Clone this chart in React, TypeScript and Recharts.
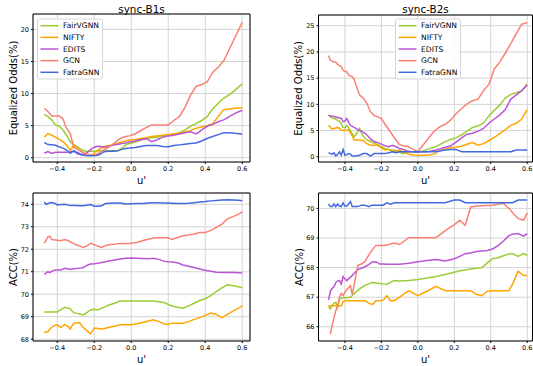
import React from 'react';
import { LineChart, Line, XAxis, YAxis, CartesianGrid, ReferenceArea } from 'recharts';

// ---------- data ----------
const seriesNames = ['FairVGNN', 'NIFTY', 'EDITS', 'GCN', 'FatraGNN'];
const xTickValues = [-0.4, -0.2, 0, 0.2, 0.4, 0.6];

// sync-B1s, Equalized Odds
const xsB1 = [-0.47, -0.45, -0.43, -0.41, -0.39, -0.37, -0.35, -0.33, -0.31, -0.29, -0.27, -0.25, -0.23, -0.21, -0.19, -0.17, -0.15, -0.13, -0.11, -0.09, -0.07, -0.05, -0.03, -0.01,
  0.02, 0.05, 0.08, 0.11, 0.14, 0.17, 0.2, 0.23, 0.26, 0.29, 0.32, 0.35, 0.38, 0.41, 0.44, 0.47, 0.5, 0.53, 0.56, 0.6];
const eoB1Fair = [6.75, 6.4, 5.9, 5.1, 4.9, 4.4, 3.5, 2.5, 2.0, 1.7, 1.3, 1.0, 1.0, 1.0, 1.0, 1.1, 1.1, 1.1, 1.1, 1.1, 1.1, 1.5, 2.0, 2.2,
  2.4, 2.7, 3.0, 3.1, 3.2, 3.4, 3.5, 3.7, 3.9, 4.3, 4.9, 5.3, 5.8, 6.4, 7.6, 8.5, 9.3, 9.8, 10.5, 11.5];
const eoB1Nifty = [3.2, 3.8, 3.5, 3.2, 2.9, 2.5, 2.0, 1.1, 2.0, 1.4, 1.0, 0.6, 0.5, 0.4, 1.0, 1.4, 1.7, 1.85, 1.95, 2.1, 2.3, 2.45, 2.6, 2.75,
  2.85, 3.0, 3.1, 3.3, 3.4, 3.5, 3.6, 3.7, 3.8, 4.0, 4.2, 4.6, 4.8, 5.0, 5.3, 6.4, 7.5, 7.6, 7.7, 7.8];
const eoB1Edits = [0.7, 0.95, 0.65, 0.84, 0.84, 0.84, 0.84, 0.9, 1.0, 0.6, 0.47, 0.6, 1.0, 1.5, 1.75, 1.8, 1.65, 1.7, 1.85, 2.0, 2.1, 2.2, 2.3, 2.45,
  2.6, 2.8, 3.0, 2.5, 2.8, 3.2, 3.4, 3.5, 3.7, 3.9, 4.05, 3.7, 4.3, 4.9, 5.2, 5.6, 5.9, 6.4, 6.9, 7.4];
const eoB1Gcn = [7.7, 7.2, 6.5, 6.5, 6.5, 6.1, 4.6, 3.8, 1.6, 1.3, 1.0, 0.6, 0.45, 0.4, 0.5, 0.8, 1.2, 1.5, 1.9, 2.3, 2.8, 3.1, 3.3, 3.4,
  3.7, 4.2, 4.7, 5.1, 5.1, 5.1, 5.1, 5.8, 6.4, 7.8, 9.7, 11.1, 11.4, 11.8, 13.3, 14.1, 15.1, 16.9, 18.7, 21.1];
const eoB1Fatra = [2.4, 2.05, 2.0, 1.95, 1.7, 1.5, 1.2, 0.7, 1.1, 0.8, 0.5, 0.35, 0.3, 0.3, 0.35, 0.5, 0.9, 1.0, 1.0, 1.0, 1.1, 1.3, 1.45, 1.5,
  1.6, 1.75, 1.9, 1.9, 1.9, 1.75, 1.7, 1.9, 2.0, 2.1, 2.2, 2.3, 2.6, 3.0, 3.3, 3.6, 3.9, 3.9, 3.8, 3.7];

// sync-B2s, Equalized Odds
const xsB2 = [-0.49, -0.48, -0.47, -0.46, -0.45, -0.44, -0.43, -0.42, -0.41, -0.4, -0.39, -0.38, -0.37, -0.36, -0.35,
  -0.34, -0.32, -0.3, -0.28, -0.26, -0.24, -0.22, -0.2, -0.18, -0.16, -0.14, -0.12, -0.1, -0.08, -0.06, -0.04, -0.02,
  0, 0.03, 0.06, 0.09, 0.12, 0.15, 0.18, 0.21, 0.24, 0.27, 0.3, 0.33, 0.36, 0.39, 0.42, 0.45, 0.48, 0.51, 0.54, 0.57, 0.6];
const eoB2Fair = [7.95, 7.6, 7.4, 7.3, 7.2, 6.9, 6.8, 6.3, 5.6, 5.5, 6.0, 5.5, 5.0, 4.4, 3.8,
  4.2, 5.4, 3.9, 3.2, 2.9, 2.6, 2.3, 1.9, 1.6, 1.4, 1.3, 1.2, 0.9, 0.6, 0.85, 0.95, 0.9,
  0.83, 1.1, 1.5, 1.8, 2.3, 2.9, 3.3, 3.6, 4.2, 4.9, 5.6, 5.9, 6.4, 7.8, 8.9, 9.9, 11.2, 11.9, 12.2, 12.6, 13.9];
const eoB2Nifty = [6.0, 5.6, 5.3, 5.4, 5.5, 5.6, 5.4, 5.1, 5.0, 5.0, 5.1, 5.2, 4.6, 4.0, 3.2,
  3.2, 3.2, 3.1, 2.5, 2.2, 2.2, 2.2, 1.7, 1.3, 1.4, 1.1, 0.95, 1.3, 0.9, 0.6, 0.45, 0.3,
  0.25, 0.3, 0.35, 0.5, 1.2, 1.5, 1.7, 1.8, 2.0, 2.4, 2.7, 2.2, 2.5, 3.1, 3.7, 4.4, 5.2, 6.0, 6.4, 7.2, 9.0];
const eoB2Edits = [7.95, 7.8, 7.8, 7.7, 7.6, 7.5, 7.4, 7.3, 6.7, 6.8, 7.3, 6.6, 6.0, 5.8, 5.6,
  5.4, 5.0, 4.7, 4.2, 3.4, 2.9, 2.7, 2.4, 2.1, 1.9, 2.2, 1.9, 1.6, 1.4, 1.1, 1.0, 0.95,
  0.95, 0.95, 1.0, 1.2, 1.5, 1.8, 2.1, 2.8, 3.6, 4.3, 4.5, 4.9, 5.4, 6.4, 7.2, 8.0, 9.0, 11.0, 11.8, 12.6, 13.7];
const eoB2Gcn = [19.3, 18.4, 18.2, 18.1, 18.1, 17.6, 17.4, 17.2, 16.5, 16.3, 16.2, 15.6, 15.4, 15.3, 14.8,
  13.8, 11.8, 11.2, 10.2, 8.6, 7.9, 7.6, 7.3, 6.2, 5.2, 4.2, 3.2, 2.3, 2.1, 2.0, 1.7, 1.3,
  0.95, 2.3, 3.6, 4.9, 5.7, 6.2, 7.0, 8.2, 9.2, 10.1, 10.7, 11.0, 12.6, 13.8, 16.8, 18.1, 19.8, 21.6, 23.5, 25.3, 25.6];
const eoB2Fatra = [0.8, 0.6, 0.5, 0.76, 0.13, 0.5, 0.95, 0.3, 1.4, 0.3, 0.4, 0.6, 0.5, 0.13, 0.13,
  0.13, 0.3, 0.6, 0.6, 0.13, 0.6, 0.6, 0.6, 0.6, 0.76, 0.95, 0.76, 0.95, 0.95, 0.95, 0.95, 0.95,
  0.95, 0.95, 0.95, 0.95, 1.1, 1.3, 1.4, 1.4, 0.95, 0.95, 0.95, 0.95, 0.95, 0.95, 0.95, 0.95, 0.95, 0.95, 1.3, 1.3, 1.3];

// sync-B1s, ACC
const xsA1 = [-0.47, -0.46, -0.45, -0.44, -0.43, -0.42, -0.41, -0.4, -0.38, -0.36, -0.34, -0.33, -0.32, -0.31, -0.3,
  -0.28, -0.26, -0.24, -0.22, -0.2, -0.18, -0.16, -0.14, -0.12, -0.09, -0.06, -0.03, 0, 0.03, 0.06, 0.09, 0.12, 0.15, 0.18,
  0.2, 0.22, 0.25, 0.28, 0.31, 0.34, 0.37, 0.4, 0.43, 0.46, 0.49, 0.52, 0.55, 0.58, 0.6];
const accB1Fair = [69.21, 69.21, 69.21, 69.21, 69.21, 69.21, 69.21, 69.21, 69.32, 69.42, 69.38, 69.35, 69.25, 69.18, 69.16,
  69.12, 69.08, 69.18, 69.3, 69.33, 69.3, 69.38, 69.45, 69.52, 69.6, 69.7, 69.7, 69.7, 69.7, 69.7, 69.7, 69.7, 69.66, 69.62,
  69.55, 69.48, 69.42, 69.38, 69.48, 69.6, 69.72, 69.8, 69.94, 70.12, 70.28, 70.42, 70.38, 70.33, 70.29];
const accB1Nifty = [68.3, 68.32, 68.34, 68.45, 68.52, 68.58, 68.62, 68.64, 68.52, 68.66, 68.55, 68.45, 68.6, 68.71, 68.72,
  68.74, 68.53, 68.38, 68.24, 68.5, 68.48, 68.45, 68.49, 68.53, 68.58, 68.64, 68.64, 68.64, 68.69, 68.74, 68.8, 68.86, 68.78, 68.68,
  68.66, 68.71, 68.71, 68.71, 68.78, 68.88, 68.96, 69.06, 69.16, 69.1, 68.96, 69.1, 69.25, 69.38, 69.48];
const accB1Edits = [70.88, 70.95, 71.0, 70.96, 71.02, 71.06, 71.08, 71.08, 71.08, 71.15, 71.12, 71.1, 71.12, 71.13, 71.14,
  71.16, 71.18, 71.28, 71.34, 71.35, 71.38, 71.41, 71.44, 71.48, 71.52, 71.57, 71.6, 71.61, 71.6, 71.59, 71.58, 71.6, 71.55, 71.46,
  71.44, 71.43, 71.4, 71.3, 71.24, 71.19, 71.12, 71.07, 71.02, 70.98, 70.96, 70.96, 70.96, 70.95, 70.94];
const accB1Gcn = [72.26, 72.4, 72.55, 72.58, 72.43, 72.42, 72.41, 72.4, 72.38, 72.43, 72.38, 72.33, 72.28, 72.25, 72.2,
  72.15, 72.08, 72.15, 72.26, 72.2, 72.14, 72.08, 72.16, 72.2, 72.22, 72.26, 72.26, 72.27, 72.3, 72.38, 72.44, 72.5, 72.51, 72.51,
  72.51, 72.43, 72.52, 72.6, 72.63, 72.68, 72.74, 72.74, 72.84, 72.97, 73.12, 73.35, 73.45, 73.56, 73.66];
const accB1Fatra = [74.1, 74.0, 74.03, 74.07, 74.08, 74.06, 74.03, 73.97, 73.99, 74.0, 73.96, 73.94, 73.94, 73.94, 73.94,
  73.93, 73.93, 73.96, 73.99, 73.91, 73.91, 73.93, 74.03, 74.04, 74.06, 74.05, 74.01, 74.02, 74.03, 74.03, 74.05, 74.07, 74.07, 74.06,
  74.05, 74.04, 74.03, 74.03, 74.04, 74.07, 74.1, 74.12, 74.15, 74.17, 74.19, 74.2, 74.19, 74.18, 74.16];

// sync-B2s, ACC
const xsA2 = [-0.49, -0.48, -0.47, -0.46, -0.45, -0.44, -0.43, -0.42, -0.41, -0.4, -0.39, -0.38, -0.37, -0.36, -0.35,
  -0.33, -0.31, -0.29, -0.27, -0.25, -0.23, -0.21, -0.19, -0.17, -0.15, -0.13,
  -0.1, -0.05, 0, 0.05, 0.1, 0.15, 0.2,
  0.23, 0.26, 0.29, 0.32, 0.35, 0.38, 0.41, 0.44, 0.47, 0.5, 0.52, 0.55, 0.58, 0.6];
const accB2Fair = [66.7, 66.6, 66.72, 66.8, 66.83, 66.66, 66.94, 66.96, 66.97, 66.97, 66.98, 66.99, 67.0, 67.05, 67.12,
  67.22, 67.32, 67.4, 67.45, 67.5, 67.48, 67.46, 67.45, 67.43, 67.5, 67.56,
  67.55, 67.56, 67.6, 67.65, 67.7, 67.77, 67.84,
  67.89, 67.92, 67.95, 67.98, 67.99, 68.15, 68.3, 68.33, 68.4, 68.46, 68.47, 68.38, 68.47, 68.41];
const accB2Nifty = [66.71, 66.71, 66.71, 66.71, 66.71, 66.71, 66.71, 66.71, 66.85, 66.88, 66.88, 66.88, 66.88, 66.88, 66.88,
  66.88, 66.88, 66.88, 66.8, 66.75, 66.88, 66.88, 66.9, 67.05, 66.88, 66.88,
  67.0, 67.22, 67.05, 67.2, 67.37, 67.22, 67.22,
  67.22, 67.22, 67.22, 67.1, 67.05, 67.2, 67.22, 67.22, 67.22, 67.22, 67.45, 67.88, 67.73, 67.73];
const accB2Edits = [66.9, 67.2, 67.3, 67.35, 67.5, 67.55, 67.56, 67.45, 67.7, 67.62, 67.56, 67.62, 67.68, 67.73, 67.8,
  67.93, 67.98, 68.03, 68.1, 68.19, 68.2, 68.12, 68.12, 68.11, 68.11, 68.11,
  68.11, 68.15, 68.2, 68.24, 68.27, 68.22, 68.3,
  68.38, 68.47, 68.49, 68.54, 68.56, 68.58, 68.63, 68.74, 68.9, 69.08, 69.13, 69.15, 69.06, 69.15];
const accB2Gcn = [null, 65.75, 66.05, 66.3, 66.55, 66.7, 67.0, 67.13, 67.05, 67.17, 67.25, 67.32, 67.39, 67.09, 67.4,
  68.07, 68.12, 68.2, 68.42, 68.6, 68.75, 68.75, 68.75, 68.76, 68.8, 68.83,
  68.78, 69.01, 69.01, 69.01, 69.01, 69.25, 69.45,
  69.6, 69.43, 70.05, 70.08, 70.09, 70.1, 70.11, 70.14, 70.17, 70.0, 69.85, 69.66, 69.6, 69.85];
const accB2Fatra = [70.15, 70.06, 70.06, 70.15, 70.06, 70.15, 70.08, 70.06, 70.19, 70.08, 70.08, 70.15, 70.23, 70.06, 70.06,
  70.06, 70.11, 70.11, 70.06, 70.11, 70.11, 70.11, 70.11, 70.19, 70.14, 70.19,
  70.19, 70.19, 70.19, 70.19, 70.19, 70.19, 70.28,
  70.28, 70.19, 70.19, 70.19, 70.19, 70.19, 70.19, 70.19, 70.19, 70.19, 70.19, 70.28, 70.28, 70.28];

// ---------- styles / layout ----------
const COLORS: Record<string, string> = {
  FairVGNN: '#9acd32',
  NIFTY: '#ffa500',
  EDITS: '#ba55d3',
  GCN: '#fa8072',
  FatraGNN: '#4169e1',
};
const FONT = '"DejaVu Sans", Verdana, sans-serif';

type PanelCfg = {
  xs: number[];
  values: (number | null)[][];
  left: number; top: number; width: number; height: number;
  margin: { top: number; right: number; bottom: number; left: number };
  xDomain: [number, number];
  yDomain: [number, number];
  yTicks: number[];
};

const panels: PanelCfg[] = [
  {
    xs: xsB1, values: [eoB1Fair, eoB1Nifty, eoB1Edits, eoB1Gcn, eoB1Fatra],
    left: 0, top: 0, width: 266, height: 183,
    margin: { top: 14, right: 16, bottom: 6, left: 13 },
    xDomain: [-0.531, 0.642], yDomain: [-0.67, 22.4], yTicks: [0, 5, 10, 15, 20],
  },
  {
    xs: xsB2, values: [eoB2Fair, eoB2Nifty, eoB2Edits, eoB2Gcn, eoB2Fatra],
    left: 266, top: 0, width: 267, height: 183,
    margin: { top: 15, right: 0.5, bottom: 6, left: 32.5 },
    xDomain: [-0.545, 0.629], yDomain: [-1.0, 27.05], yTicks: [0, 5, 10, 15, 20, 25],
  },
  {
    xs: xsA1, values: [accB1Fair, accB1Nifty, accB1Edits, accB1Gcn, accB1Fatra],
    left: 0, top: 183, width: 266, height: 183,
    margin: { top: 10, right: 16, bottom: 10, left: 13 },
    xDomain: [-0.531, 0.642], yDomain: [67.92, 74.5], yTicks: [68, 69, 70, 71, 72, 73, 74],
  },
  {
    xs: xsA2, values: [accB2Fair, accB2Nifty, accB2Edits, accB2Gcn, accB2Fatra],
    left: 266, top: 183, width: 267, height: 183,
    margin: { top: 10, right: 0.5, bottom: 10, left: 32.5 },
    xDomain: [-0.545, 0.629], yDomain: [65.52, 70.52], yTicks: [66, 67, 68, 69, 70],
  },
];

const fmtX = (v: number) => (v < 0 ? '\u2212' : '') + Math.abs(v).toFixed(1);
const fmtY = (v: number) => String(v);

function Panel({ p }: { p: PanelCfg }) {
  const data = p.xs.map((x, i) => {
    const row: Record<string, number | null> = { x };
    seriesNames.forEach((s, k) => { row[s] = p.values[k][i] ?? null; });
    return row;
  });
  const tickStyle = { fontSize: 6.5, fill: '#000', fontFamily: FONT };
  return (
    <div style={{ position: 'absolute', left: p.left, top: p.top }}>
      <LineChart width={p.width} height={p.height} data={data} margin={p.margin}>
        <CartesianGrid stroke="#d4d4d4" strokeWidth={1} />
        <XAxis dataKey="x" type="number" domain={p.xDomain} allowDataOverflow ticks={xTickValues}
          tickFormatter={fmtX} tick={tickStyle} tickSize={2} tickLine={{ stroke: '#000' }}
          axisLine={false} height={15} interval={0} />
        <YAxis type="number" domain={p.yDomain} allowDataOverflow ticks={p.yTicks}
          tickFormatter={fmtY} tick={tickStyle} tickSize={2} tickLine={{ stroke: '#000' }}
          axisLine={false} width={20} interval={0} />
        {seriesNames.map((s) => (
          <Line key={s} dataKey={s} type="linear" stroke={COLORS[s]} strokeWidth={1.5}
            dot={false} activeDot={false} isAnimationActive={false} />
        ))}
        <ReferenceArea x1={p.xDomain[0]} x2={p.xDomain[1]} y1={p.yDomain[0]} y2={p.yDomain[1]}
          fill="none" fillOpacity={0} stroke="#000" strokeWidth={1} ifOverflow="visible" />
      </LineChart>
    </div>
  );
}

function LegendBox({ x, y }: { x: number; y: number }) {
  return (
    <g>
      <rect x={x} y={y} width={65} height={60} rx={2} fill="#fff" fillOpacity={0.85} stroke="#cccccc" strokeWidth={0.8} />
      {seriesNames.map((s, i) => {
        const cy = y + 6.7 + i * 11.65;
        return (
          <g key={s}>
            <line x1={x + 3} x2={x + 21} y1={cy} y2={cy} stroke={COLORS[s]} strokeWidth={1.5} />
            <text x={x + 25.5} y={cy} fontSize={7.6} dominantBaseline="central" fill="#000">{s}</text>
          </g>
        );
      })}
    </g>
  );
}

export default function App() {
  return (
    <div style={{ position: 'absolute', left: 0, top: 0, width: 533, height: 366, background: '#fff', fontFamily: FONT, overflow: 'hidden' }}>
      {panels.map((p, i) => <Panel key={i} p={p} />)}
      <svg width={533} height={366} style={{ position: 'absolute', left: 0, top: 0, pointerEvents: 'none', fontFamily: FONT }}>
        <text x={141.5} y={12.6} fontSize={10.4} textAnchor="middle" fill="#000">sync-B1s</text>
        <text x={425.5} y={12.6} fontSize={10.4} textAnchor="middle" fill="#000">sync-B2s</text>
        <text x={141.5} y={184} fontSize={10} textAnchor="middle" fill="#000">u'</text>
        <text x={425.5} y={184} fontSize={10} textAnchor="middle" fill="#000">u'</text>
        <text x={141.5} y={363} fontSize={10} textAnchor="middle" fill="#000">u'</text>
        <text x={425.5} y={363} fontSize={10} textAnchor="middle" fill="#000">u'</text>
        <text transform="translate(17,88) rotate(-90)" fontSize={10} textAnchor="middle" fill="#000">Equalized Odds(%)</text>
        <text transform="translate(302,88.5) rotate(-90)" fontSize={10} textAnchor="middle" fill="#000">Equalized Odds(%)</text>
        <text transform="translate(17,267) rotate(-90)" fontSize={10} textAnchor="middle" fill="#000">ACC(%)</text>
        <text transform="translate(302.5,267) rotate(-90)" fontSize={10} textAnchor="middle" fill="#000">ACC(%)</text>
        <LegendBox x={37.5} y={19} />
        <LegendBox x={395.5} y={19} />
      </svg>
    </div>
  );
}
